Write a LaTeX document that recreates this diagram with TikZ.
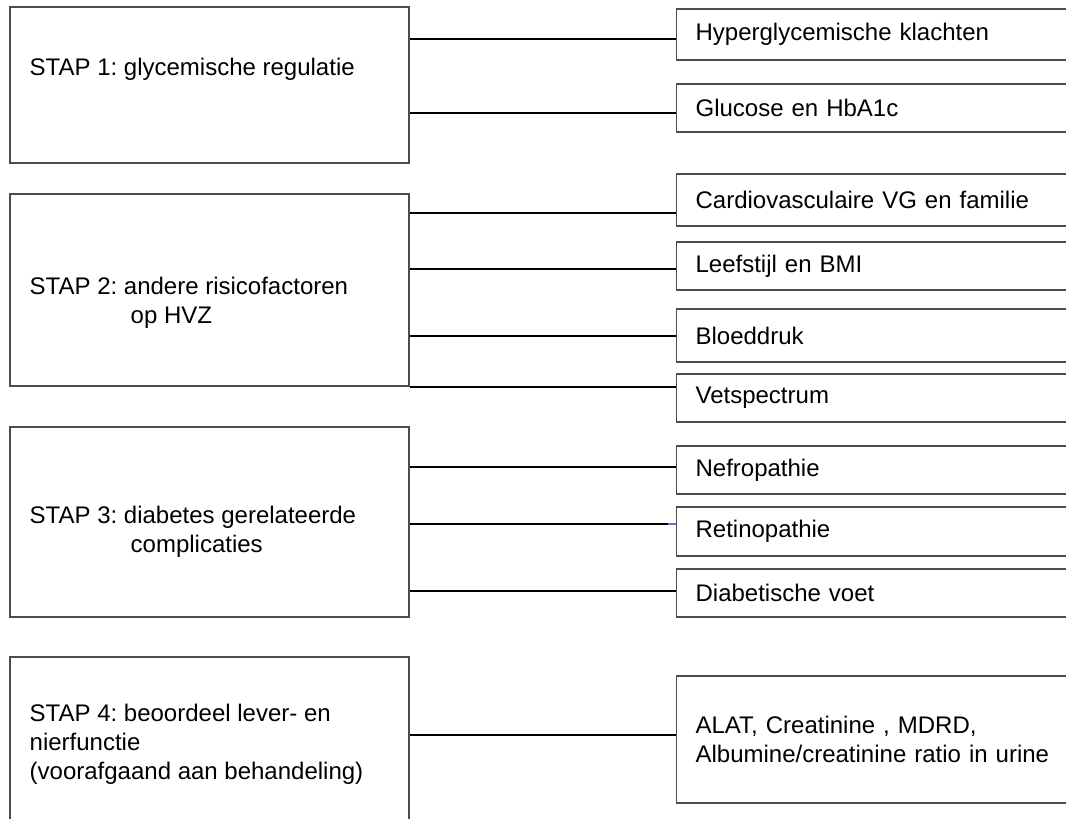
\documentclass[tikz,border=0pt]{standalone}
\usepackage{fontspec}
\setmainfont{Liberation Sans}
\frenchspacing

\tikzset{
	stapbox/.style = {draw=black!70, line width=1.2pt, minimum width=399pt, inner sep=0pt},
	staptekst/.style = {anchor=base west, inner sep=0pt, align=left},
	itembox/.style = {draw=black!70, line width=1.2pt, anchor=west, text width=382pt, inner xsep=19pt, inner ysep=0pt, align=left},
	verbinding/.style = {black, line width=1.3pt},
}

\begin{document}
\begin{tikzpicture}[x=1pt, y=-1pt, font=\fontsize{24}{29}\selectfont]%stappenplan diabetes
		
		\useasboundingbox (0,0) rectangle (1066,819);
		\clip (0,0) rectangle (1066,819);
		
		\node[stapbox, minimum height=156pt] (s1) at (209.5,85) {};
		\node[stapbox, minimum height=192pt] (s2) at (209.5,290) {};
		\node[stapbox, minimum height=190pt] (s3) at (209.5,522) {};
		\node[stapbox, minimum height=180pt] (s4) at (209.5,747) {};
		
		% ankers liggen op de onderste regel
		\node[staptekst] (t1) at (29.5,75) {STAP 1: glycemische regulatie};
		\node[staptekst] (t2) at (29.5,323) {STAP 2: andere risicofactoren\\\hspace*{101pt}op HVZ};
		\node[staptekst] (t3) at (29.5,552) {STAP 3: diabetes gerelateerde\\\hspace*{101pt}complicaties};
		\node[staptekst] (t4) at (29.5,779) {STAP 4: beoordeel lever- en\\nierfunctie\\(voorafgaand aan behandeling)};
		
		\node[itembox, minimum height=51pt] (r1) at (676,34.5) {Hyperglycemische klachten};
		\node[itembox, minimum height=48pt] (r2) at (676,108) {Glucose en HbA1c};
		\node[itembox, minimum height=52pt] (r3) at (676,200) {Cardiovasculaire VG en familie};
		\node[itembox, minimum height=48pt] (r4) at (676,266) {Leefstijl en BMI};
		\node[itembox, minimum height=53pt] (r5) at (676,335.5) {Bloeddruk};
		\node[itembox, minimum height=48pt] (r6) at (676,398) {Vetspectrum};
		\node[itembox, minimum height=48pt] (r7) at (676,470) {Nefropathie};
		\node[itembox, minimum height=49pt] (r8) at (676,531.5) {Retinopathie};
		\node[itembox, minimum height=48pt] (r9) at (676,593) {Diabetische voet};
		\node[itembox, minimum height=127pt] (r10) at (676,739.5) {ALAT, Creatinine , MDRD,\\Albumine/creatinine ratio in urine};
		
		\foreach \s/\r/\y in {s1/r1/39, s1/r2/113, s2/r3/213, s2/r4/269, s2/r5/336, s2/r6/387, s3/r7/467, s3/r8/524, s3/r9/591, s4/r10/735} {
			\draw[verbinding] (\s.east |- 0,\y) -- (\r.west |- 0,\y);}
		\draw[color={rgb,255:red,79;green,129;blue,189}, line width=1.3pt] ([xshift=-8pt]r8.west |- 0,524) -- (r8.west |- 0,524);
	\end{tikzpicture}
\end{document}
